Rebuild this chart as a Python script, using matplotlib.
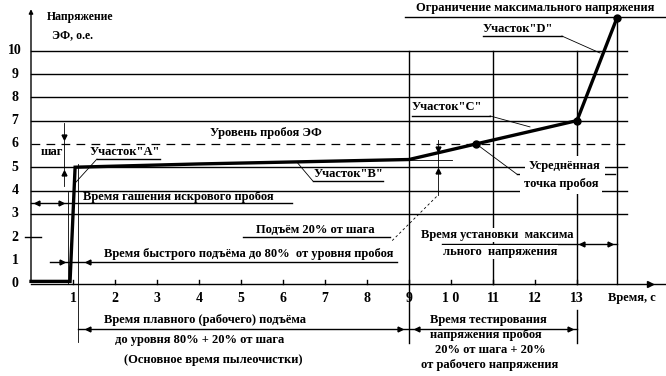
import matplotlib
matplotlib.use("Agg")
import matplotlib.pyplot as plt

# Curve of electrofilter voltage (time, s / voltage, p.u.)
curve_t = [0.0, 0.93, 1.05, 4.0, 9.0, 10.6, 13.0, 13.95]
curve_u = [0.1, 0.1, 5.0, 5.14, 5.33, 6.0, 7.0, 11.4]
dots_t = [10.6, 13.0, 13.95]
dots_u = [6.0, 7.0, 11.4]

x_ticks = [1, 2, 3, 4, 5, 6, 7, 8, 9, 10, 11, 12, 13]
x_tick_labels = ["1", "2", "3", "4", "5", "6", "7", "8", "9", "1 0", "11", "12", "13"]
y_ticks = [0, 1, 2, 3, 4, 5, 6, 7, 8, 9, 10]
grid_levels = [3, 4, 5, 7, 8, 9, 10]
breakdown_level = 6

plt.rcParams['font.family'] = ['Liberation Serif', 'DejaVu Serif']
plt.rcParams['font.weight'] = 'bold'
FS = 9

fig = plt.figure(figsize=(6.66, 3.76), dpi=100)
ax = fig.add_axes([0, 0, 1, 1])
ax.set_xlim(-0.738, 15.119)
ax.set_ylim(-3.961, 12.176)
ax.set_axis_off()

K = dict(color='black', lw=1.0)
T = dict(color='black', lw=0.6)
WB = dict(fc='white', ec='none', pad=0.5)

# axes
ax.annotate('', xy=(0, 11.9), xytext=(0, 0),
            arrowprops=dict(arrowstyle='-|>', lw=1.0, color='black', mutation_scale=6))
ax.plot([0, 15.1], [0, 0], **K)
ax.plot([14.74], [0], marker='>', ms=4, color='black')

# horizontal grid
for lv in grid_levels:
    ax.plot([0, 14.19], [lv, lv], **K)
ax.plot([0, 14.19], [breakdown_level] * 2, color='black', lw=0.9, dashes=(7, 5))
ax.plot([-0.14, 0.24], [2, 2], **K)

# vertical lines
ax.plot([9, 9], [-2.55, 10], **K)
ax.plot([11, 11], [0, 10], **K)
ax.plot([13, 13], [0, 10], **K)
ax.plot([13, 13], [-1.13, -2.55], **K)
ax.plot([13.95, 13.95], [0, 11.45], **K)
ax.plot([1.12, 1.12], [-2.5, 5.15], **T)
ax.plot([0.88, 0.88], [0, 3.94], **T)

# ticks and labels
for t, lab in zip(x_ticks, x_tick_labels):
    ax.plot([t, t], [0, 0.15], **K)
    ax.text(t, -0.62, lab, ha='center', va='center', fontsize=FS + 1)
for v in y_ticks:
    ax.text(-0.38, v, str(v), ha='center', va='center', fontsize=FS + 1)
ax.text(14.31, -0.62, "Время, с", ha='center', va='center', fontsize=FS)
ax.text(1.17, 11.45, "Напряжение", ha='center', va='center', fontsize=FS - 0.5)
ax.text(0.98, 10.67, "ЭФ, о.е.", ha='center', va='center', fontsize=FS - 0.5)

# main curve
ax.plot(curve_t, curve_u, color='black', lw=2.4, solid_joinstyle='miter')
ax.plot(dots_t, dots_u, 'o', color='black', ms=5)

# dimension "шаг"
ax.plot([0.79, 0.79], [4.2, 6.9], **T)
ax.plot([0.79], [6.3], marker='v', ms=3.5, color='black')
ax.plot([0.79], [4.75], marker='^', ms=3.5, color='black')
ax.text(0.5, 5.65, "шаг", ha='center', va='center', fontsize=FS)

# dimension "Подъём 20%"
ax.plot([8.79, 10.02], [5.33, 5.33], **T)
ax.plot([9.69, 9.69], [3.8, 6.16], **T)
ax.plot([9.69], [5.8], marker='v', ms=3.5, color='black')
ax.plot([9.69], [4.85], marker='^', ms=3.5, color='black')
ax.plot([8.6, 9.69], [1.85, 3.8], color='black', lw=0.6, ls=(0, (3, 3)))
ax.plot([5.05, 8.55], [2.0, 2.0], **K)
ax.text(6.76, 2.30, "Подъём 20% от шага", ha='center', va='center', fontsize=FS)

# "Время гашения искрового пробоя"
ax.plot([0, 6.21], [3.45, 3.45], **K)
ax.plot([0.15], [3.45], marker='<', ms=3.5, color='black')
ax.plot([0.72], [3.45], marker='>', ms=3.5, color='black')
ax.text(3.5, 3.72, "Время гашения искрового пробоя", ha='center', va='center', fontsize=FS)

# "Время быстрого подъёма"
ax.plot([0.45, 8.71], [0.93, 0.93], **K)
ax.plot([0.74], [0.93], marker='>', ms=3.5, color='black')
ax.plot([1.36], [0.93], marker='<', ms=3.5, color='black')
ax.text(5.19, 1.27, "Время быстрого подъёма до 80%  от уровня пробоя",
        ha='center', va='center', fontsize=FS)

# "Время установки максимального напряжения"
ax.plot([9.79, 13.95], [1.70, 1.70], **K)
ax.plot([13.12], [1.70], marker='<', ms=3.5, color='black')
ax.plot([13.79], [1.70], marker='>', ms=3.5, color='black')
ax.text(11.1, 2.09, "Время установки  максима", ha='center', va='center', fontsize=FS, bbox=WB)
ax.text(11.17, 1.36, "льного  напряжения", ha='center', va='center', fontsize=FS, bbox=WB)

# bottom brackets
ax.plot([1.12, 13.0], [-1.95, -1.95], **K)
ax.plot([1.36], [-1.95], marker='<', ms=3.5, color='black')
ax.plot([8.79], [-1.95], marker='>', ms=3.5, color='black')
ax.plot([9.18], [-1.95], marker='<', ms=3.5, color='black')
ax.plot([12.83], [-1.95], marker='>', ms=3.5, color='black')
ax.text(4.14, -1.57, "Время плавного (рабочего) подъёма", ha='center', va='center', fontsize=FS)
ax.text(4.02, -2.42, "до уровня 80% + 20% от шага", ha='center', va='center', fontsize=FS)
ax.text(4.33, -3.29, "(Основное время пылеочистки)", ha='center', va='center', fontsize=FS)
ax.text(10.88, -1.57, "Время тестирования", ha='center', va='center', fontsize=FS)
ax.text(10.83, -2.2, "напряжения пробоя", ha='center', va='center', fontsize=FS)
ax.text(10.93, -2.85, "20% от шага + 20%", ha='center', va='center', fontsize=FS)
ax.text(10.93, -3.5, "от рабочего напряжения", ha='center', va='center', fontsize=FS)

# section labels with leaders
ax.plot([8.9, 15.12], [11.45, 11.45], **K)
ax.text(12.0, 11.83, "Ограничение максимального напряжения", ha='center', va='center', fontsize=FS)

ax.plot([10.76, 12.64], [10.63, 10.63], **K)
ax.plot([12.64, 13.55], [10.63, 9.9], **T)
ax.text(11.6, 10.93, "Участок\"D\"", ha='center', va='center', fontsize=FS)

ax.plot([9.07, 10.93], [7.2, 7.2], **K)
ax.plot([10.93, 11.88], [7.2, 6.73], **T)
ax.text(9.9, 7.58, "Участок\"C\"", ha='center', va='center', fontsize=FS)

ax.text(5.6, 6.47, "Уровень пробоя ЭФ", ha='center', va='center', fontsize=FS)

ax.plot([1.57, 3.07], [5.35, 5.35], **K)
ax.plot([1.57, 1.05], [5.35, 4.32], **T)
ax.text(2.24, 5.65, "Участок\"A\"", ha='center', va='center', fontsize=FS)

ax.plot([6.71, 8.38], [4.41, 4.41], **K)
ax.plot([6.71, 6.33], [4.41, 5.22], **T)
ax.text(7.55, 4.7, "Участок\"B\"", ha='center', va='center', fontsize=FS)

ax.text(12.71, 5.05, "Усреднённая", ha='center', va='center', fontsize=FS,
        bbox=dict(fc='white', ec='none', pad=3))
ax.text(12.62, 4.3, "точка пробоя", ha='center', va='center', fontsize=FS,
        bbox=dict(fc='white', ec='none', pad=3))
ax.plot([11.57, 13.9], [4.7, 4.7], **K)
ax.plot([10.6, 11.57], [6.0, 4.7], **T)

fig.savefig("out.png", dpi=100)
